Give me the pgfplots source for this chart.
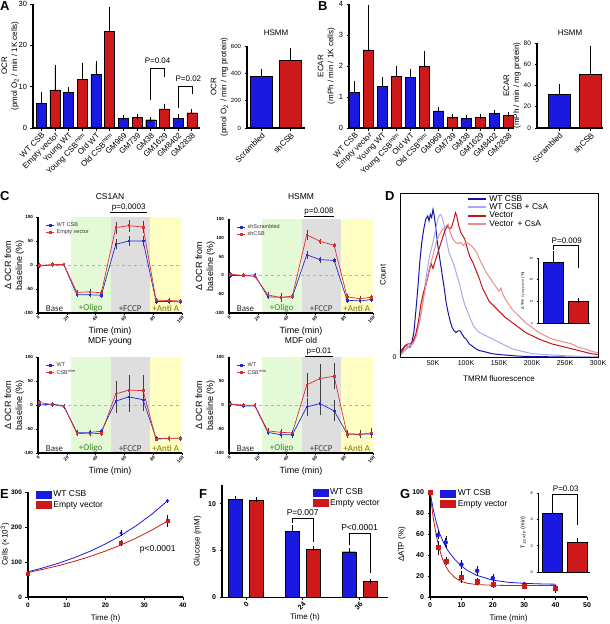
\documentclass[border=0pt]{standalone}
\usepackage{fontspec}
\setmainfont{Liberation Sans}
\newfontfamily\carlito{Carlito}
\usepackage{pgfplots}
\usepackage{pgfplotstable}
\pgfplotsset{compat=1.18}
\newcommand{\fs}[1]{\fontsize{#1}{#1}\selectfont}
\definecolor{cblue}{RGB}{25,25,225}
\definecolor{cred}{RGB}{205,25,25}
\definecolor{lblue}{RGB}{40,40,215}
\definecolor{lred}{RGB}{225,45,45}
\definecolor{bgreen}{RGB}{228,250,215}
\definecolor{bgray}{RGB}{222,222,222}
\definecolor{byellow}{RGB}{255,255,195}
\definecolor{dblue}{RGB}{20,20,170}
\definecolor{ltblue}{RGB}{165,170,240}
\definecolor{dred}{RGB}{195,20,20}
\definecolor{ltred}{RGB}{235,140,140}
\definecolor{ogreen}{RGB}{60,135,40}
\definecolor{oyellow}{RGB}{125,115,0}

\pgfplotstableread{
t a ae b be
1 -2 2 -1 2
10 0 1 1 2
18 0 1 1 1
27 -62 3 -57 3
36 -62 3 -56 3
44 -63 3 -58 3
54 43 8 78 10
63 50 8 82 10
73 50 8 79 10
82 -76 2 -73 2
91 -76 2 -74 2
99 -77 2 -75 2
}\csA
\pgfplotstableread{
t a ae b be
1 0 3 3 3
10 0 2 0 2
18 1 3 -3 2
27 -57 3 -52 4
36 -58 3 -59 8
44 -57 3 -55 3
54 55 8 108 10
63 42 5 91 3
73 40 4 80 2
82 -66 3 -57 4
91 -68 3 -62 4
99 -64 3 -58 4
}\hsmm
\pgfplotstableread{
t a ae b be
1 0 2 5 2
10 2 2 1 2
18 -2 2 -3 2
27 -57 3 -59 3
36 -57 3 -60 3
44 -55 3 -59 3
54 8 22 23 25
63 17 30 31 30
73 11 20 30 30
82 -70 2 -71 2
91 -69 2 -70 2
99 -69 2 -70 2
}\mdfy
\pgfplotstableread{
t a ae b be
1 2 3 2 3
10 -2 2 0 2
18 -2 2 -1 2
27 -57 4 -54 4
36 -62 4 -57 4
44 -62 5 -58 4
54 -4 17 42 22
63 3 22 55 28
73 -12 19 60 25
82 -60 5 -61 5
91 -61 5 -61 6
99 -60 5 -58 8
}\mdfo

\pgfplotsset{
  every axis/.append style={scale only axis, clip=false, enlargelimits=false, axis on top, /pgf/number format/assume math mode=true},
  panel/.style={anchor=south west, axis lines*=left, axis line style={line width=1.1pt}, tick style={black, line width=0.7pt}, tick align=outside, major tick length=2.5pt, ticklabel style={font=\fs{7.5}}, label style={font=\fontsize{8}{10}\selectfont, align=center}},
  mybar/.style={ybar, bar width=#1, bar shift=0pt, draw=black, line width=0.4pt, error bars/y dir=plus, error bars/y explicit, error bars/error bar style={black, line width=0.6pt}, error bars/error mark options={black, line width=0.6pt, mark size=2.5pt}},
  mybar/.default=10pt,
  cpanel/.style={anchor=south west, width=144pt, axis lines*=left, axis line style={line width=1.1pt}, tick style={black, line width=0.5pt}, tick align=outside, major tick length=1.5pt, ticklabel style={font=\bfseries\fs{4.5}}, xticklabel style={rotate=45, anchor=north east, inner sep=0.5pt}, label style={font=\fontsize{9}{11}\selectfont, align=center}, xmin=0, xmax=100, xtick={0,20,...,100}, xlabel={Time (min)}, ylabel={Δ OCR from\\baseline (\%)}, ylabel style={yshift=-7pt},
    legend style={at={(0.05,0.97)}, anchor=north west, draw=none, fill=none, font=\fs{5.5}, text=black!80, row sep=-2.5pt, inner sep=0.5pt}, legend cell align=left,
    legend image code/.code={\draw[mark repeat=2,mark phase=2,##1] plot coordinates {(0pt,0pt) (4pt,0pt) (8pt,0pt)};}},
  cline/.style={color=#1, line width=0.7pt, mark=square*, mark size=0.8pt, error bars/y dir=both, error bars/y explicit, error bars/error bar style={black!75, line width=0.4pt}, error bars/error mark options={black!75, line width=0.4pt, mark size=1.2pt}},
  boxleg/.style={legend image code/.code={\fill[#1] (0pt,-3.5pt) rectangle (15pt,3.5pt);}},
  efgleg/.style={legend style={draw=none, fill=none, font=\fs{8.5}, row sep=-1pt, inner sep=0pt}, legend cell align=left},
}
\newcommand{\bands}[2]{%
  \fill[bgreen] (axis cs:23,#1) rectangle (axis cs:50.5,#2);
  \fill[bgray] (axis cs:50.5,#1) rectangle (axis cs:77.5,#2);
  \fill[byellow] (axis cs:77.5,#1) rectangle (axis cs:100,#2);
  \draw[black!30, dashed, line width=0.3pt] (axis cs:0,0) -- (axis cs:100,0);}
\newcommand{\cnodes}{%
  \node[anchor=south, font=\carlito\fs{9}, text=black!85, inner sep=1pt] at (axis cs:11.5,-100) {Base};
  \node[anchor=south, font=\carlito\fs{9}, text=ogreen, inner sep=1pt] at (axis cs:36.5,-100) {+Oligo};
  \node[anchor=south, font=\carlito\fs{9}, text=black!75, inner sep=1pt] at (axis cs:64,-100) {+FCCP};
  \node[anchor=south, font=\carlito\fs{9}, text=oyellow, inner sep=1pt] at (axis cs:88.7,-100) {+Anti A};}

\begin{document}
\begin{tikzpicture}
\useasboundingbox (0pt,0pt) rectangle (610pt,-624pt);
% panel letters
\node[anchor=north west, font=\bfseries\fs{13}, inner sep=0pt] at (0pt,-1pt) {A};
\node[anchor=north west, font=\bfseries\fs{13}, inner sep=0pt] at (318pt,-1pt) {B};
\node[anchor=north west, font=\bfseries\fs{13}, inner sep=0pt] at (0pt,-191pt) {C};
\node[anchor=north west, font=\bfseries\fs{13}, inner sep=0pt] at (385pt,-191pt) {D};
\node[anchor=north west, font=\bfseries\fs{13}, inner sep=0pt] at (0pt,-489pt) {E};
\node[anchor=north west, font=\bfseries\fs{13}, inner sep=0pt] at (199pt,-489pt) {F};
\node[anchor=north west, font=\bfseries\fs{13}, inner sep=0pt] at (400pt,-489pt) {G};

% ---------------- A main
\begin{axis}[panel, at={(33pt,-128pt)}, width=167pt, height=124pt,
  xmin=-0.6, xmax=11.6, ymin=0, ymax=30, ytick={0,10,20,30},
  xtick={0,...,11}, xticklabels={WT CSB, Empty vector, Young WT, Young CSB\textsuperscript{m/m}, Old WT, Old CSB\textsuperscript{m/m}, GM969, GM739, GM38, GM1629, GM8402, GM2838},
  xticklabel style={rotate=45, anchor=north east, inner sep=1pt, font=\fs{8}},
  ylabel={OCR\\(pmol O\textsubscript{2} / min / 1K cells)}, ylabel style={yshift=-7pt}]
\addplot[mybar, fill=cblue] table[x=x,y=y,y error=e] {
x y e
0 6.0 2.0
2 8.7 0.5
4 12.9 2.6
6 2.3 0.3
8 2.0 0.1
10 2.4 0.3
};
\addplot[mybar, fill=cred] table[x=x,y=y,y error=e] {
x y e
1 9.2 5.5
3 11.8 3.4
5 23.3 5.3
7 2.6 0.2
9 4.6 0.6
11 3.7 0.4
};
\draw[line width=0.5pt] (axis cs:8,6.8) -- (axis cs:8,14.5) -- (axis cs:9,14.5) -- (axis cs:9,12.3);
\node[font=\fs{8}] at (axis cs:8.5,16.3) {P=0.04};
\draw[line width=0.5pt] (axis cs:10,4.8) -- (axis cs:10,10.2) -- (axis cs:11,10.2) -- (axis cs:11,8.3);
\node[font=\fs{8}] at (axis cs:10.75,11.9) {P=0.02};
\end{axis}

% ---------------- A HSMM
\begin{axis}[panel, at={(247pt,-128pt)}, width=58pt, height=82pt,
  xmin=-0.5, xmax=1.5, ymin=0, ymax=600, ytick={0,200,400,600},
  ticklabel style={font=\fs{6}},
  xtick={0,1}, xticklabels={Scrambled, shCSB},
  xticklabel style={rotate=45, anchor=north east, inner sep=1pt, font=\fs{8}},
  ylabel={OCR\\(pmol O\textsubscript{2} / min / mg protein)}, ylabel style={yshift=-4pt}]
\addplot[mybar=22pt, fill=cblue] table[x=x,y=y,y error=e] {
x y e
0 380 35
};
\addplot[mybar=22pt, fill=cred] table[x=x,y=y,y error=e] {
x y e
1 495 70
};
\node[font=\fs{8}] at ([yshift=13pt]axis cs:0.5,600) {HSMM};
\end{axis}

% ---------------- B main
\begin{axis}[panel, at={(349pt,-128pt)}, width=165pt, height=124pt,
  xmin=-0.4, xmax=11.4, ymin=0, ymax=4, ytick={0,1,2,3,4},
  xtick={0,...,11}, xticklabels={WT CSB, Empty vector, Young WT, Young CSB\textsuperscript{m/m}, Old WT, Old CSB\textsuperscript{m/m}, GM969, GM739, GM38, GM1629, GM8402, GM2838},
  xticklabel style={rotate=45, anchor=north east, inner sep=1pt, font=\fs{8}},
  ylabel={ECAR\\(mPh / min / 1K cells)}, ylabel style={yshift=-3pt}]
\addplot[mybar, fill=cblue] table[x=x,y=y,y error=e] {
x y e
0 1.15 0.3
2 1.35 0.2
4 1.63 0.19
6 0.55 0.05
8 0.32 0.01
10 0.48 0.02
};
\addplot[mybar, fill=cred] table[x=x,y=y,y error=e] {
x y e
1 2.52 1.38
3 1.67 0.26
5 2.0 0.4
7 0.35 0.03
9 0.34 0.02
11 0.4 0.02
};
\end{axis}

% ---------------- B HSMM
\begin{axis}[panel, at={(537pt,-128pt)}, width=66pt, height=85pt,
  xmin=-0.7, xmax=1.4, ymin=0, ymax=80, ytick={0,20,...,80},
  ticklabel style={font=\fs{6.5}},
  xtick={0,1}, xticklabels={Scrambled, shCSB},
  xticklabel style={rotate=45, anchor=north east, inner sep=1pt, font=\fs{8}},
  ylabel={ECAR\\(mPh / min / mg protein)}, ylabel style={yshift=-4pt}]
\addplot[mybar=22pt, fill=cblue] table[x=x,y=y,y error=e] {
x y e
0 32 7
};
\addplot[mybar=22pt, fill=cred] table[x=x,y=y,y error=e] {
x y e
1 51 24
};
\node[font=\fs{8}] at ([yshift=10pt]axis cs:0.35,80) {HSMM};
\end{axis}

% ---------------- C top-left
\begin{axis}[cpanel, at={(38pt,-313pt)}, height=96pt, ymin=-100, ymax=100, ytick={-100,-50,0,50,100}]
\bands{-100}{100}
\addplot[cline=lblue] table[x=t,y=a,y error=ae] {\csA};
\addplot[cline=lred] table[x=t,y=b,y error=be] {\csA};
\legend{WT CSB, Empty vector}
\cnodes
\draw[line width=0.6pt] ([yshift=5pt]axis cs:50,100) -- ([yshift=5pt]axis cs:76,100) node[midway, above, font=\fs{8}, inner sep=1pt] {p=0.0003};
\node[font=\fs{8.5}] at ([yshift=20pt]axis cs:50,100) {CS1AN};
\end{axis}

% ---------------- C top-right
\begin{axis}[cpanel, at={(229pt,-313pt)}, height=94pt, ymin=-100, ymax=150, ytick={-100,-50,0,50,100,150}]
\bands{-100}{150}
\addplot[cline=lblue] table[x=t,y=a,y error=ae] {\hsmm};
\addplot[cline=lred] table[x=t,y=b,y error=be] {\hsmm};
\legend{shScrambled, shCSB}
\cnodes
\draw[line width=0.6pt] ([yshift=3pt]axis cs:52,150) -- ([yshift=3pt]axis cs:73,150) node[midway, above, font=\fs{8}, inner sep=1pt] {p=0.008};
\node[font=\fs{8.5}] at ([yshift=22pt]axis cs:50,150) {HSMM};
\end{axis}

% ---------------- C bottom-left
\begin{axis}[cpanel, at={(38pt,-453pt)}, height=96pt, ymin=-100, ymax=100, ytick={-100,-50,0,50,100}]
\bands{-100}{100}
\addplot[cline=lblue] table[x=t,y=a,y error=ae] {\mdfy};
\addplot[cline=lred] table[x=t,y=b,y error=be] {\mdfy};
\legend{WT, CSB\textsuperscript{m/m}}
\cnodes
\node[font=\fs{8.5}] at ([yshift=16pt]axis cs:50,100) {MDF young};
\end{axis}

% ---------------- C bottom-right
\begin{axis}[cpanel, at={(229pt,-453pt)}, height=96pt, ymin=-100, ymax=100, ytick={-100,-50,0,50,100}]
\bands{-100}{100}
\addplot[cline=lblue] table[x=t,y=a,y error=ae] {\mdfo};
\addplot[cline=lred] table[x=t,y=b,y error=be] {\mdfo};
\legend{WT, CSB\textsuperscript{m/m}}
\cnodes
\draw[line width=0.6pt] ([yshift=1pt]axis cs:53,100) -- ([yshift=1pt]axis cs:72,100) node[midway, above, font=\fs{8}, inner sep=1pt] {p=0.01};
\node[font=\fs{8.5}] at ([yshift=17pt]axis cs:50,100) {MDF old};
\end{axis}

% ---------------- D histograms
\begin{axis}[at={(400pt,-357pt)}, anchor=south west, width=198pt, height=164pt,
  axis line style={line width=0.8pt}, xmin=0, xmax=300, ymin=0, ymax=100,
  xtick={50,100,...,300}, xticklabels={50K,100K,150K,200K,250K,300K}, ytick={0},
  major tick length=0pt, ticklabel style={font=\fs{7}},
  xlabel={TMRM fluorescence}, ylabel={Count}, label style={font=\fs{8}},
  xlabel style={yshift=-3pt},
  legend style={at={(0.34,1.0)}, anchor=north west, draw=none, fill=none, font=\fs{8.5}, row sep=-3pt, inner sep=0pt},
  legend cell align=left,
  legend image code/.code={\draw[#1, line width=1.8pt] (0pt,0pt) -- (18pt,0pt);}]
\addplot[dblue, line width=1pt] coordinates {(0,3) (4,5) (8,7) (12,6.5) (15,6) (18,9) (21,15) (24,28) (27,42) (30,58) (33,70) (36,78) (39,84) (42,86) (44,83) (46,87) (48,85) (50,90) (52,86) (55,76) (58,66) (61,58) (64,50) (67,42) (70,33) (73,27) (76,22) (79,18) (82,16) (85,15) (88,16) (91,16) (94,14) (97,12) (100,11) (105,8) (110,6.5) (115,5) (120,4) (130,3) (140,2) (150,1.5) (165,1) (180,0.5) (200,0.3) (250,0) (300,0)};
\addplot[ltblue, line width=1pt] coordinates {(0,1) (5,3) (10,6) (15,7) (20,9) (25,14) (30,22) (35,35) (40,50) (45,62) (50,70) (55,80) (58,85) (61,87) (63,86) (66,82) (70,72) (74,64) (78,60) (82,56) (86,50) (90,45) (94,38) (98,32) (102,28) (106,24) (110,20) (115,17) (120,15) (125,14) (130,13) (140,11) (150,9) (160,7) (170,5) (180,4) (200,2) (220,1.5) (250,0.8) (280,0.3) (300,0)};
\addplot[dred, line width=1pt] coordinates {(0,2) (4,4) (8,7) (12,8) (16,8) (20,10) (24,14) (28,22) (32,33) (36,40) (40,45) (44,52) (47,57) (50,54) (53,58) (56,62) (60,67) (64,72) (68,77) (72,80) (75,78) (78,79) (81,83) (84,88) (86,86) (89,80) (92,76) (95,74) (98,72) (102,66) (106,61) (110,58) (115,53) (120,48) (125,42) (130,38) (135,34) (140,32) (145,30) (150,28) (155,26) (160,24) (170,21) (180,18) (190,15) (200,13) (210,11) (220,9.5) (230,8) (240,7) (250,6) (260,5) (270,4) (280,3) (290,2) (300,1.5)};
\addplot[ltred, line width=1pt] coordinates {(0,1.5) (5,3) (10,5) (15,7) (20,8) (25,13) (30,22) (35,34) (40,46) (45,55) (50,62) (55,70) (60,75) (65,78) (70,80) (73,81) (76,76) (80,72) (84,70) (88,69) (92,70) (96,68) (100,70) (104,69) (108,68) (112,66) (116,64) (120,60) (125,56) (130,52) (135,49) (140,46) (145,43) (150,40) (153,42) (156,38) (160,35) (165,32) (170,29) (180,25) (190,21) (200,18) (210,15) (220,13) (230,11) (240,10) (250,9) (260,8) (270,6) (280,5) (290,3.5) (300,2.5)};
\legend{WT CSB, WT CSB + CsA, Vector, Vector\enspace+ CsA}
\end{axis}

% ---------------- D inset
\begin{axis}[panel, at={(538pt,-323pt)}, width=52pt, height=65pt,
  xmin=-0.6, xmax=1.48, ymin=0, ymax=30, ytick={0,10,20,30}, xtick=\empty,
  ticklabel style={font=\fs{3}}, axis line style={line width=0.8pt}, major tick length=1.5pt,
  ylabel={Δ Ψm {\fs{3}Cyclosporin A} (\%)}, ylabel style={font=\fs{4}, yshift=-2pt}]
\addplot[mybar=20pt, fill=cblue] table[x=x,y=y,y error=e] {
x y e
0 28 4
};
\addplot[mybar=20pt, fill=cred] table[x=x,y=y,y error=e] {
x y e
1 10 0.5
};
\draw[line width=0.5pt] (axis cs:0,33.7) -- (axis cs:0,36) -- (axis cs:1,36) -- (axis cs:1,25.4);
\node[font=\fs{8}, anchor=south, inner sep=1pt] at (axis cs:0.55,36.3) {P=0.009};
\end{axis}

% ---------------- E
\begin{axis}[panel, efgleg, at={(28pt,-597pt)}, width=155pt, height=105pt,
  xmin=0, xmax=40, ymin=0, ymax=300, xtick={0,10,...,40}, ytick={0,100,200,300},
  ticklabel style={font=\bfseries\fs{6.5}}, xlabel={Time (h)}, ylabel={Cells (×10\textsuperscript{3})}, ylabel style={yshift=-5pt},
  legend style={at={(0.05,1.03)}, anchor=north west}]
\addlegendimage{boxleg=cblue}
\addlegendentry{WT CSB}
\addlegendimage{boxleg=cred}
\addlegendentry{Empty vector}
\addplot[cblue, line width=0.8pt, forget plot] coordinates {(0,72) (4,83.6) (8,97) (12,112.6) (16,130.6) (20,151.6) (24,175.9) (28,204.2) (32,237) (36,275)};
\addplot[cred, line width=0.8pt, forget plot] coordinates {(0,70) (4,79.4) (8,90) (12,102.1) (16,115.7) (20,131.3) (24,148.8) (28,168.8) (32,191.4) (36,217)};
\addplot[cblue, only marks, mark=*, mark size=1.3pt, forget plot, error bars/y dir=both, error bars/y explicit, error bars/error bar style={black, line width=0.5pt}, error bars/error mark options={black, mark size=1.5pt}] table[x=x,y=y,y error=e] {
x y e
0 70 2
24 183 3
36 275 2
};
\addplot[cred, only marks, mark=square*, mark size=1.5pt, forget plot, error bars/y dir=both, error bars/y explicit, error bars/error bar style={black, line width=0.5pt}, error bars/error mark options={black, mark size=1.5pt}] table[x=x,y=y,y error=e] {
x y e
0 67 3
24 155 5
36 217 12
};
\node[font=\fs{8.5}] at (axis cs:33.5,137) {p<0.0001};
\end{axis}

% ---------------- F
\begin{axis}[panel, efgleg, at={(222pt,-597.3pt)}, width=166pt, height=112.3pt,
  xmin=-0.42, xmax=2.5, ymin=0, ymax=12, ytick={0,5,10},
  xtick={0,1,2}, xticklabels={0,24,36}, ticklabel style={font=\bfseries\fs{7}},
  xticklabel style={rotate=45, anchor=north east, inner sep=1pt},
  xlabel={Time (h)}, ylabel={Glucose (mM)}, xlabel style={yshift=2pt},
  legend style={at={(0.545,0.985)}, anchor=north west}]
\addlegendimage{boxleg=cblue}
\addlegendentry{WT CSB}
\addlegendimage{boxleg=cred}
\addlegendentry{Empty vector}
\addplot[mybar=14pt, fill=cblue, forget plot] table[x=x,y=y,y error=e] {
x y e
-0.185 10.45 0.08
0.815 7.05 0.4
1.815 4.87 0.1
};
\addplot[mybar=14pt, fill=cred, forget plot] table[x=x,y=y,y error=e] {
x y e
0.185 10.35 0.08
1.185 5.15 0.07
2.185 1.7 0.04
};
\draw[line width=0.5pt] (axis cs:0.815,7.9) -- (axis cs:0.815,8.5) -- (axis cs:1.185,8.5) -- (axis cs:1.185,5.9);
\node[font=\fs{8.5}, anchor=south, inner sep=1pt] at (axis cs:1,8.65) {P=0.007};
\draw[line width=0.5pt] (axis cs:1.815,5.6) -- (axis cs:1.815,6.8) -- (axis cs:2.185,6.8) -- (axis cs:2.185,2.6);
\node[font=\fs{8.5}, anchor=south, inner sep=1pt] at (axis cs:2,6.95) {P<0.0001};
\end{axis}

% ---------------- G
\begin{axis}[panel, efgleg, at={(430pt,-597pt)}, width=157pt, height=105pt,
  xmin=0, xmax=50, ymin=0, ymax=100, xtick={0,10,...,50}, ytick={0,20,...,100},
  ticklabel style={font=\bfseries\fs{7}}, xlabel={Time (min)}, ylabel={ΔATP (\%)},
  legend style={at={(0.065,1.04)}, anchor=north west}]
\addlegendimage{boxleg=cblue}
\addlegendentry{WT CSB}
\addlegendimage{boxleg=cred}
\addlegendentry{Empty vector}
\addplot[cblue, line width=0.8pt, forget plot] coordinates {(0,100) (1,84) (2,71) (3,61) (4,54) (5,48) (6,43) (8,35.5) (10,29.5) (12,25) (15,20.5) (20,16) (25,14) (30,13) (35,12.5) (40,12.2)};
\addplot[cred, line width=0.8pt, forget plot] coordinates {(0,100) (1,75.9) (2,58.4) (3,45.6) (4,36.2) (5,29.4) (6,24.4) (8,18.2) (10,14.8) (12,13) (15,11.8) (20,11.2) (25,11) (30,11) (40,11)};
\addplot[cblue, only marks, mark=*, mark size=2pt, forget plot, error bars/y dir=both, error bars/y explicit, error bars/error bar style={black, line width=0.5pt}, error bars/error mark options={black, mark size=1.8pt}] table[x=x,y=y,y error=e] {
x y e
0 100 0
2.5 59 2
5 52 4
10 31 3
15 25 3
20 18 2
30 12 1
40 9 1
};
\addplot[cred, only marks, mark=square*, mark size=2pt, forget plot, error bars/y dir=both, error bars/y explicit, error bars/error bar style={black, line width=0.5pt}, error bars/error mark options={black, mark size=1.8pt}] table[x=x,y=y,y error=e] {
x y e
0 100 0
2.5 47 5
5 34 2
10 19 4
15 15 1.5
20 12.5 2
30 10.5 1.5
40 8 2
};
\end{axis}

% ---------------- G inset
\begin{axis}[panel, at={(538pt,-572pt)}, width=52pt, height=79pt,
  xmin=-0.56, xmax=1.52, ymin=0, ymax=6, ytick={0,2,4,6}, xtick=\empty,
  ticklabel style={font=\fs{4}}, axis line style={line width=0.9pt}, major tick length=1.5pt,
  ylabel={T\textsubscript{1/2 ATP} (min)}, ylabel style={font=\fs{5.5}, yshift=-2pt}]
\addplot[mybar=20pt, fill=cblue] table[x=x,y=y,y error=e] {
x y e
0 4.45 0.7
};
\addplot[mybar=20pt, fill=cred] table[x=x,y=y,y error=e] {
x y e
1 2.25 0.12
};
\draw[line width=0.5pt] (axis cs:0,5.35) -- (axis cs:0,5.9) -- (axis cs:1,5.9) -- (axis cs:1,3.6);
\node[font=\fs{8}, anchor=south, inner sep=1pt] at (axis cs:0.55,6.0) {P=0.03};
\end{axis}
\end{tikzpicture}
\end{document}
